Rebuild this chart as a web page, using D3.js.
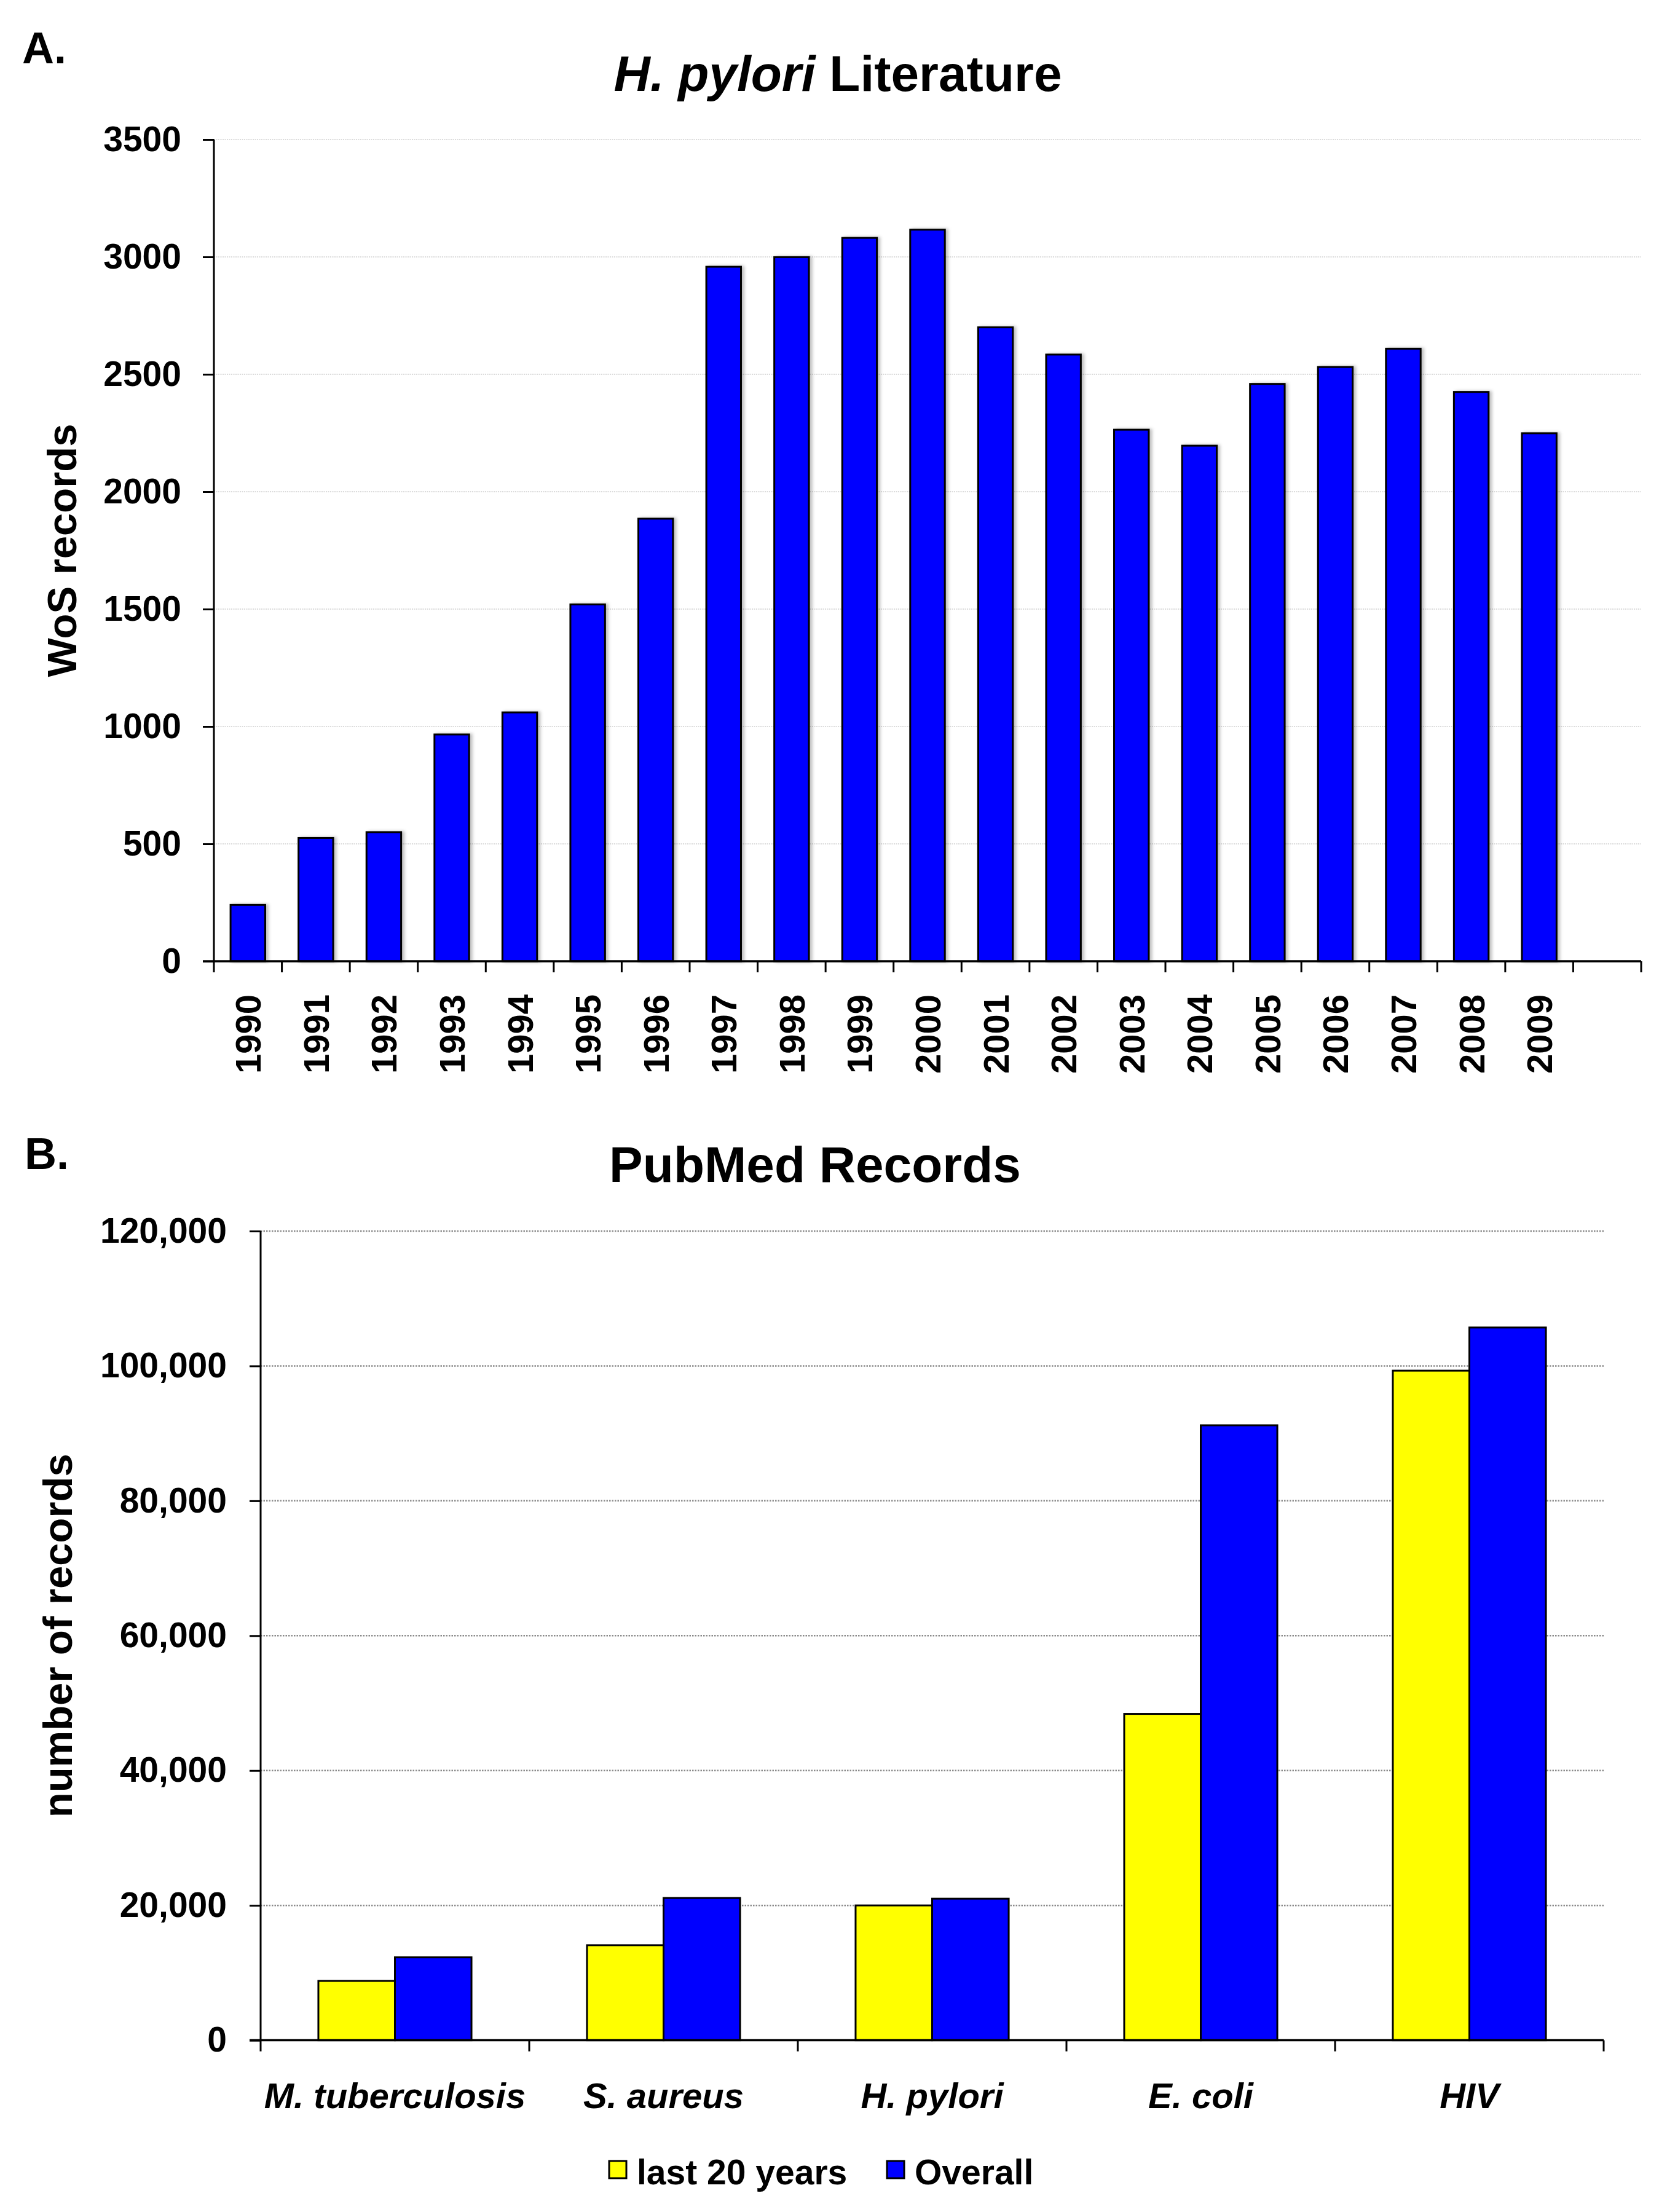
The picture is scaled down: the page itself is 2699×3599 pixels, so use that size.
<!DOCTYPE html>
<html><head><meta charset="utf-8">
<script src="https://cdn.jsdelivr.net/npm/d3@7"></script>
<style>
html,body{margin:0;padding:0;background:#fff;}
text{font-family:"Liberation Sans",Arial,sans-serif;font-weight:bold;fill:#000;}
</style></head>
<body>
<svg id="fig" width="2699" height="3599"></svg>
<script>
// ---------- Data ----------
const yearsA = ["1990","1991","1992","1993","1994","1995","1996","1997","1998","1999",
                "2000","2001","2002","2003","2004","2005","2006","2007","2008","2009"];
const wosRecords = [240,525,550,966,1060,1520,1885,2958,2999,3081,
                    3116,2700,2584,2264,2196,2459,2531,2609,2425,2249];
const yTicksA = [0,500,1000,1500,2000,2500,3000,3500];

const organisms = ["M. tuberculosis","S. aureus","H. pylori","E. coli","HIV"];
const seriesB = ["last 20 years","Overall"];
const last20 = [8800,14100,20000,48400,99300];
const overall = [12300,21100,21000,91200,105700];
const yTicksB = [0,20000,40000,60000,80000,100000,120000];
const colorsB = ["#FFFF00","#0000FF"];

const svg = d3.select("#fig");
svg.append("rect").attr("width",2699).attr("height",3599).attr("fill","#fff");

const defs = svg.append("defs");
const f = defs.append("filter").attr("id","shadow").attr("x","-20%").attr("y","-5%").attr("width","150%").attr("height","110%");
f.append("feDropShadow").attr("dx",4).attr("dy",0).attr("stdDeviation",2.5).attr("flood-color","#000").attr("flood-opacity",0.25);

// ---------- Panel A ----------
{
  const L=348, R=2670, T=227, B=1564;
  const domain = yearsA.concat(["_blank"]);
  const x = d3.scaleBand().domain(domain).range([L,R]).paddingInner(0.49).paddingOuter(0.245);
  const y = d3.scaleLinear().domain([0,3500]).range([B,T]);
  const g = svg.append("g");

  g.selectAll("line.grid").data(yTicksA.filter(d=>d>0)).enter().append("line")
    .attr("x1",L).attr("x2",R).attr("y1",d=>y(d)).attr("y2",d=>y(d))
    .attr("stroke","#cfcfcf").attr("stroke-width",1.5).attr("stroke-dasharray","2,1.5");

  g.selectAll("rect.bar").data(yearsA.map((yr,i)=>({yr,v:wosRecords[i]}))).enter().append("rect")
    .attr("x",d=>x(d.yr)).attr("width",x.bandwidth())
    .attr("y",d=>y(d.v)).attr("height",d=>y(0)-y(d.v))
    .attr("fill","#0000FF").attr("stroke","#000").attr("stroke-width",3)
    .attr("filter","url(#shadow)");

  const ya = d3.axisLeft(y).tickValues(yTicksA).tickSize(18).tickPadding(35).tickFormat(d3.format("d"));
  const yg = g.append("g").attr("transform",`translate(${L},0)`).call(ya);
  yg.select(".domain").attr("stroke","#000").attr("stroke-width",3).attr("d",`M0,${T}V${B}`);
  yg.selectAll(".tick line").attr("stroke","#000").attr("stroke-width",3);
  yg.selectAll(".tick text").attr("font-size",57).attr("font-family","Liberation Sans, Arial, sans-serif").attr("font-weight","bold");

  g.append("line").attr("x1",L-18).attr("x2",R).attr("y1",B).attr("y2",B).attr("stroke","#000").attr("stroke-width",3.5);
  const bounds = d3.range(domain.length+1).map(i=>x.range()[0]+i*x.step());
  g.selectAll("line.xt").data(bounds).enter().append("line")
    .attr("x1",d=>d).attr("x2",d=>d).attr("y1",B).attr("y2",B+18).attr("stroke","#000").attr("stroke-width",3);

  g.selectAll("text.yr").data(yearsA).enter().append("text")
    .attr("transform",d=>`translate(${x(d)+x.bandwidth()/2+21},${B+54}) rotate(-90)`)
    .attr("text-anchor","end").attr("font-size",58).text(d=>d);

  g.append("text").attr("transform",`translate(124,${(T+B)/2}) rotate(-90)`)
    .attr("text-anchor","middle").attr("font-size",67).text("WoS records");

  const t = g.append("text").attr("x",1363).attr("y",148).attr("text-anchor","middle").attr("font-size",82);
  t.append("tspan").attr("font-style","italic").text("H. pylori");
  t.append("tspan").text(" Literature");

  g.append("text").attr("x",36).attr("y",103).attr("font-size",72).text("A.");
}

// ---------- Panel B ----------
{
  const L=424, R=2609, T=2003, B=3319.6;
  const x0 = d3.scaleBand().domain(organisms).range([L,R]).paddingInner(0.43).paddingOuter(0.215);
  const x1 = d3.scaleBand().domain(seriesB).range([0,x0.bandwidth()]).padding(0);
  const y = d3.scaleLinear().domain([0,120000]).range([B,T]);
  const color = d3.scaleOrdinal().domain(seriesB).range(colorsB);
  const g = svg.append("g");

  g.selectAll("line.grid").data(yTicksB.filter(d=>d>0)).enter().append("line")
    .attr("x1",L).attr("x2",R).attr("y1",d=>y(d)).attr("y2",d=>y(d))
    .attr("stroke","#8a8a8a").attr("stroke-width",2.5).attr("stroke-dasharray","2.5,2");

  const rows = organisms.map((o,i)=>({o, vals:[{s:seriesB[0],v:last20[i]},{s:seriesB[1],v:overall[i]}]}));
  const grp = g.selectAll("g.grp").data(rows).enter().append("g").attr("transform",d=>`translate(${x0(d.o)},0)`);
  grp.selectAll("rect").data(d=>d.vals).enter().append("rect")
    .attr("x",d=>x1(d.s)).attr("width",x1.bandwidth())
    .attr("y",d=>y(d.v)).attr("height",d=>y(0)-y(d.v))
    .attr("fill",d=>color(d.s)).attr("stroke","#000").attr("stroke-width",3);

  const ya = d3.axisLeft(y).tickValues(yTicksB).tickSize(18).tickPadding(37).tickFormat(d3.format(","));
  const yg = g.append("g").attr("transform",`translate(${L},0)`).call(ya);
  yg.select(".domain").attr("stroke","#000").attr("stroke-width",3).attr("d",`M0,${T}V${B}`);
  yg.selectAll(".tick line").attr("stroke","#000").attr("stroke-width",3);
  yg.selectAll(".tick text").attr("font-size",57).attr("font-family","Liberation Sans, Arial, sans-serif").attr("font-weight","bold");

  g.append("line").attr("x1",L-18).attr("x2",R).attr("y1",B).attr("y2",B).attr("stroke","#000").attr("stroke-width",3.5);
  const bounds = d3.range(organisms.length+1).map(i=>x0.range()[0]+i*x0.step());
  g.selectAll("line.xt").data(bounds).enter().append("line")
    .attr("x1",d=>d).attr("x2",d=>d).attr("y1",B).attr("y2",B+18).attr("stroke","#000").attr("stroke-width",3);

  g.selectAll("text.cat").data(organisms).enter().append("text")
    .attr("x",d=>x0(d)+x0.bandwidth()/2).attr("y",3430)
    .attr("text-anchor","middle").attr("font-size",58).attr("font-style","italic").text(d=>d);

  g.append("text").attr("transform",`translate(117,${(T+B)/2}) rotate(-90)`)
    .attr("text-anchor","middle").attr("font-size",67).text("number of records");

  g.append("text").attr("x",1326).attr("y",1923).attr("text-anchor","middle").attr("font-size",82).text("PubMed Records");
  g.append("text").attr("x",40).attr("y",1902).attr("font-size",72).text("B.");

  const legX = [991,1443];
  const lg = g.selectAll("g.leg").data(seriesB).enter().append("g")
    .attr("transform",(d,i)=>`translate(${legX[i]},3516)`);
  lg.append("rect").attr("width",28).attr("height",28).attr("fill",d=>color(d)).attr("stroke","#000").attr("stroke-width",3);
  lg.append("text").attr("x",45).attr("y",38).attr("font-size",57).text(d=>d);
}
</script>
</body></html>
